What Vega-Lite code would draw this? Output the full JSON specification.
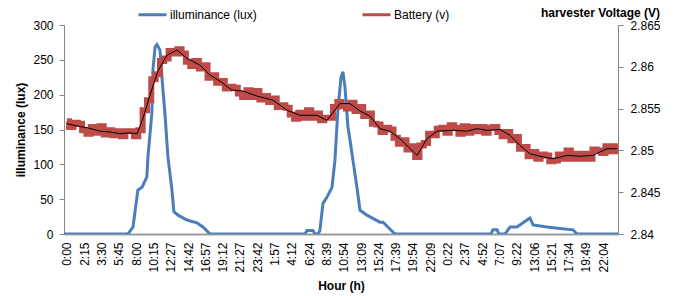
{
  "$schema": "https://vega.github.io/schema/vega-lite/v6.json",
  "width": 554,
  "height": 209,
  "autosize": {"type": "none"},
  "padding": {"left": 64, "top": 25, "right": 70, "bottom": 62},
  "background": "white",
  "config": {
    "view": {"stroke": null},
    "axis": {
      "grid": false,
      "domainColor": "#868686",
      "tickColor": "#868686",
      "labelColor": "#000000",
      "labelFont": "Liberation Sans",
      "labelFontSize": 12,
      "titleFont": "Liberation Sans",
      "titleFontSize": 12,
      "titleFontWeight": "bold",
      "titleColor": "#000000"
    },
    "legend": {
      "orient": "none",
      "legendX": 73,
      "legendY": -26,
      "direction": "horizontal",
      "columns": 2,
      "columnPadding": 99,
      "symbolType": "stroke",
      "symbolSize": 784,
      "symbolStrokeWidth": 3,
      "labelFont": "Liberation Sans",
      "labelFontSize": 12,
      "labelColor": "#000000",
      "labelOffset": 2,
      "title": null
    }
  },
  "datasets": {
    "lux": [
      {"x": -0.17, "v": 0}, {"x": 3.53, "v": 0}, {"x": 3.82, "v": 10}, {"x": 4.1, "v": 63}, {"x": 4.34, "v": 67}, {"x": 4.62, "v": 82}, {"x": 4.68, "v": 110}, {"x": 4.91, "v": 174}, {"x": 4.97, "v": 235}, {"x": 5.09, "v": 268}, {"x": 5.2, "v": 272}, {"x": 5.38, "v": 264}, {"x": 5.49, "v": 225}, {"x": 5.66, "v": 174}, {"x": 5.84, "v": 110}, {"x": 6.07, "v": 63}, {"x": 6.18, "v": 32}, {"x": 6.42, "v": 27}, {"x": 6.94, "v": 20}, {"x": 7.51, "v": 16}, {"x": 7.86, "v": 10}, {"x": 8.27, "v": 0},
      {"x": 13.76, "v": 0}, {"x": 13.87, "v": 5}, {"x": 14.22, "v": 5}, {"x": 14.34, "v": 0}, {"x": 14.51, "v": 0}, {"x": 14.62, "v": 5}, {"x": 14.8, "v": 44}, {"x": 15.03, "v": 53}, {"x": 15.32, "v": 67}, {"x": 15.49, "v": 106}, {"x": 15.66, "v": 178}, {"x": 15.84, "v": 225}, {"x": 15.95, "v": 233}, {"x": 16.07, "v": 211}, {"x": 16.24, "v": 154}, {"x": 16.36, "v": 135}, {"x": 16.53, "v": 106}, {"x": 16.76, "v": 67}, {"x": 16.94, "v": 34}, {"x": 17.34, "v": 27}, {"x": 18.09, "v": 17}, {"x": 18.27, "v": 17}, {"x": 18.55, "v": 10}, {"x": 18.96, "v": 0},
      {"x": 24.51, "v": 0}, {"x": 24.62, "v": 6}, {"x": 24.86, "v": 6}, {"x": 24.97, "v": 0}, {"x": 25.32, "v": 0}, {"x": 25.61, "v": 10}, {"x": 26.01, "v": 10}, {"x": 26.59, "v": 20}, {"x": 26.76, "v": 23}, {"x": 26.94, "v": 13}, {"x": 27.75, "v": 10}, {"x": 28.5, "v": 8}, {"x": 29.25, "v": 6}, {"x": 29.48, "v": 0}, {"x": 31.85, "v": 0}
    ],
    "bat": [
      {"x": 0, "v": 2.8535}, {"x": 0.25, "v": 2.8528}, {"x": 0.5, "v": 2.8533}, {"x": 0.75, "v": 2.8532}, {"x": 1, "v": 2.8524}, {"x": 1.25, "v": 2.852}, {"x": 1.5, "v": 2.8528}, {"x": 1.75, "v": 2.8521},
      {"x": 2, "v": 2.8529}, {"x": 2.25, "v": 2.8519}, {"x": 2.5, "v": 2.8524}, {"x": 2.75, "v": 2.8518}, {"x": 3, "v": 2.8523}, {"x": 3.25, "v": 2.8517}, {"x": 3.5, "v": 2.8523}, {"x": 3.75, "v": 2.8523},
      {"x": 4, "v": 2.8517}, {"x": 4.25, "v": 2.8524}, {"x": 4.5, "v": 2.8548}, {"x": 4.75, "v": 2.856}, {"x": 5, "v": 2.8585}, {"x": 5.25, "v": 2.8591}, {"x": 5.5, "v": 2.8607}, {"x": 5.75, "v": 2.861},
      {"x": 6, "v": 2.8619}, {"x": 6.25, "v": 2.8616}, {"x": 6.5, "v": 2.8621}, {"x": 6.75, "v": 2.8616}, {"x": 7, "v": 2.8606}, {"x": 7.25, "v": 2.8601}, {"x": 7.5, "v": 2.8607}, {"x": 7.75, "v": 2.8598},
      {"x": 8, "v": 2.8602}, {"x": 8.25, "v": 2.8587}, {"x": 8.5, "v": 2.859}, {"x": 8.75, "v": 2.8581}, {"x": 9, "v": 2.8583}, {"x": 9.25, "v": 2.8574}, {"x": 9.5, "v": 2.8576}, {"x": 9.75, "v": 2.8575},
      {"x": 10, "v": 2.8568}, {"x": 10.25, "v": 2.8564}, {"x": 10.5, "v": 2.8572}, {"x": 10.75, "v": 2.8564}, {"x": 11, "v": 2.8571}, {"x": 11.25, "v": 2.8561}, {"x": 11.5, "v": 2.8565}, {"x": 11.75, "v": 2.8558},
      {"x": 12, "v": 2.8562}, {"x": 12.25, "v": 2.8552}, {"x": 12.5, "v": 2.8554}, {"x": 12.75, "v": 2.8551}, {"x": 13, "v": 2.8543}, {"x": 13.25, "v": 2.8538}, {"x": 13.5, "v": 2.8545}, {"x": 13.75, "v": 2.8539},
      {"x": 14, "v": 2.8548}, {"x": 14.25, "v": 2.8539}, {"x": 14.5, "v": 2.8544}, {"x": 14.75, "v": 2.8536}, {"x": 15, "v": 2.8539}, {"x": 15.25, "v": 2.8539}, {"x": 15.5, "v": 2.8552}, {"x": 15.75, "v": 2.8558},
      {"x": 16, "v": 2.8553}, {"x": 16.25, "v": 2.855}, {"x": 16.5, "v": 2.8557}, {"x": 16.75, "v": 2.8547}, {"x": 17, "v": 2.8552}, {"x": 17.25, "v": 2.8541}, {"x": 17.5, "v": 2.8544}, {"x": 17.75, "v": 2.8532},
      {"x": 18, "v": 2.8531}, {"x": 18.25, "v": 2.8522}, {"x": 18.5, "v": 2.8527}, {"x": 18.75, "v": 2.8525}, {"x": 19, "v": 2.8515}, {"x": 19.25, "v": 2.8508}, {"x": 19.5, "v": 2.8512}, {"x": 19.75, "v": 2.8501},
      {"x": 20, "v": 2.8505}, {"x": 20.25, "v": 2.8492}, {"x": 20.5, "v": 2.8506}, {"x": 20.75, "v": 2.8509}, {"x": 21, "v": 2.852}, {"x": 21.25, "v": 2.8518}, {"x": 21.5, "v": 2.8526}, {"x": 21.75, "v": 2.8527},
      {"x": 22, "v": 2.8521}, {"x": 22.25, "v": 2.853}, {"x": 22.5, "v": 2.8527}, {"x": 22.75, "v": 2.852}, {"x": 23, "v": 2.8529}, {"x": 23.25, "v": 2.8521}, {"x": 23.5, "v": 2.8528}, {"x": 23.75, "v": 2.8523},
      {"x": 24, "v": 2.8528}, {"x": 24.25, "v": 2.8521}, {"x": 24.5, "v": 2.8527}, {"x": 24.75, "v": 2.8528}, {"x": 25, "v": 2.8522}, {"x": 25.25, "v": 2.8517}, {"x": 25.5, "v": 2.8522}, {"x": 25.75, "v": 2.8512},
      {"x": 26, "v": 2.8516}, {"x": 26.25, "v": 2.8502}, {"x": 26.5, "v": 2.8504}, {"x": 26.75, "v": 2.8493}, {"x": 27, "v": 2.8498}, {"x": 27.25, "v": 2.849}, {"x": 27.5, "v": 2.8495}, {"x": 27.75, "v": 2.8494},
      {"x": 28, "v": 2.8487}, {"x": 28.25, "v": 2.8488}, {"x": 28.5, "v": 2.8495}, {"x": 28.75, "v": 2.849}, {"x": 29, "v": 2.85}, {"x": 29.25, "v": 2.849}, {"x": 29.5, "v": 2.8496}, {"x": 29.75, "v": 2.849},
      {"x": 30, "v": 2.8496}, {"x": 30.25, "v": 2.849}, {"x": 30.5, "v": 2.8501}, {"x": 30.75, "v": 2.85}, {"x": 31, "v": 2.8497}, {"x": 31.25, "v": 2.8505}, {"x": 31.5, "v": 2.8499}, {"x": 31.75, "v": 2.8505}, {"x": 31.85, "v": 2.8499}
    ],
    "avg": [
      {"x": 0, "v": 2.8532}, {"x": 0.6, "v": 2.8529}, {"x": 1.2, "v": 2.8527}, {"x": 1.9, "v": 2.8523}, {"x": 2.5, "v": 2.8522}, {"x": 3.06, "v": 2.852}, {"x": 3.6, "v": 2.8521}, {"x": 4.05, "v": 2.852}, {"x": 4.39, "v": 2.8538}, {"x": 4.8, "v": 2.8566}, {"x": 5.26, "v": 2.8595}, {"x": 5.78, "v": 2.8614}, {"x": 6.36, "v": 2.862}, {"x": 6.94, "v": 2.861}, {"x": 7.69, "v": 2.8602}, {"x": 8.27, "v": 2.859}, {"x": 8.84, "v": 2.8583}, {"x": 9.54, "v": 2.8572}, {"x": 10.17, "v": 2.8571}, {"x": 10.98, "v": 2.8565}, {"x": 11.91, "v": 2.856}, {"x": 12.72, "v": 2.8548}, {"x": 13.47, "v": 2.8542}, {"x": 14.45, "v": 2.8542}, {"x": 15.03, "v": 2.8536}, {"x": 15.78, "v": 2.8556}, {"x": 16.36, "v": 2.8556}, {"x": 16.94, "v": 2.8547}, {"x": 17.51, "v": 2.8541}, {"x": 18.09, "v": 2.8526}, {"x": 18.67, "v": 2.8523}, {"x": 19.25, "v": 2.8514}, {"x": 19.83, "v": 2.8502}, {"x": 20.23, "v": 2.8494}, {"x": 20.81, "v": 2.8514}, {"x": 21.39, "v": 2.8523}, {"x": 22.31, "v": 2.8524}, {"x": 23.12, "v": 2.8523}, {"x": 23.7, "v": 2.8526}, {"x": 24.28, "v": 2.8524}, {"x": 25.03, "v": 2.8525}, {"x": 25.61, "v": 2.8518}, {"x": 26.18, "v": 2.8506}, {"x": 26.76, "v": 2.8496}, {"x": 27.34, "v": 2.8493}, {"x": 28.09, "v": 2.849}, {"x": 28.9, "v": 2.8494}, {"x": 29.65, "v": 2.8493}, {"x": 30.4, "v": 2.8494}, {"x": 31.21, "v": 2.8502}, {"x": 31.79, "v": 2.8502}
    ]
  },
  "encoding": {
    "x": {
      "field": "x",
      "type": "quantitative",
      "scale": {"domain": [-0.17, 31.85], "nice": false, "zero": false},
      "axis": {
        "title": "Hour (h)",
        "values": [0,1,2,3,4,5,6,7,8,9,10,11,12,13,14,15,16,17,18,19,20,21,22,23,24,25,26,27,28,29,30,31],
        "labelExpr": "['0:00','2:15','3:30','5:45','8:00','10:15','12:27','14:42','16:57','19:12','21:27','23:42','1:57','4:12','6:24','8:39','10:54','13:09','15:24','17:39','19:54','22:09','0:22','2:37','4:52','7:07','9:22','13:06','15:21','17:34','19:49','22:04'][datum.value]",
        "labelAngle": 270,
        "labelAlign": "right",
        "labelBaseline": "middle",
        "labelPadding": 8,
        "ticks": false,
        "domainColor": "#999999",
        "domainWidth": 2,
        "titlePadding": 8,
        "labelOverlap": false
      }
    }
  },
  "layer": [
    {
      "data": {"name": "lux"},
      "transform": [{"calculate": "'illuminance (lux)'", "as": "s"}],
      "mark": {"type": "line", "strokeWidth": 3, "clip": true},
      "encoding": {
        "y": {
          "field": "v",
          "type": "quantitative",
          "scale": {"domain": [0, 300], "nice": false},
          "axis": {"title": "illuminance (lux)", "values": [0,50,100,150,200,250,300], "tickSize": 5, "labelPadding": 6, "titlePadding": 5}
        },
        "color": {
          "field": "s",
          "type": "nominal",
          "scale": {"domain": ["illuminance (lux)", "Battery (v)"], "range": ["#4A7EBB", "#BE4B48"]},
          "legend": {"encode": {"symbols": {"update": {"strokeWidth": {"value": 3}, "fill": {"value": "transparent"}, "shape": {"value": "stroke"}, "size": {"value": 784}}}}}
        }
      }
    },
    {
      "layer": [
        {
          "data": {"name": "bat"},
          "mark": {"type": "line", "strokeWidth": 6, "interpolate": "step", "color": "#BE4B48", "clip": true},
          "encoding": {
            "y": {
              "field": "v",
              "type": "quantitative",
              "scale": {"domain": [2.84, 2.865], "nice": false, "zero": false},
              "axis": {
                "orient": "right",
                "title": "harvester Voltage (V)",
                "values": [2.84, 2.845, 2.85, 2.855, 2.86, 2.865],
                "format": ".4~f",
                "tickSize": 5,
                "labelPadding": 7,
                "titleAngle": 0,
                "titleX": -18,
                "titleY": -13,
                "titleAlign": "center",
                "titleBaseline": "middle"
              }
            }
          }
        },
        {
          "data": {"name": "avg"},
          "mark": {"type": "line", "strokeWidth": 1, "color": "#000000", "clip": true},
          "encoding": {
            "y": {"field": "v", "type": "quantitative"}
          }
        }
      ]
    }
  ],
  "resolve": {"scale": {"y": "independent"}}
}
